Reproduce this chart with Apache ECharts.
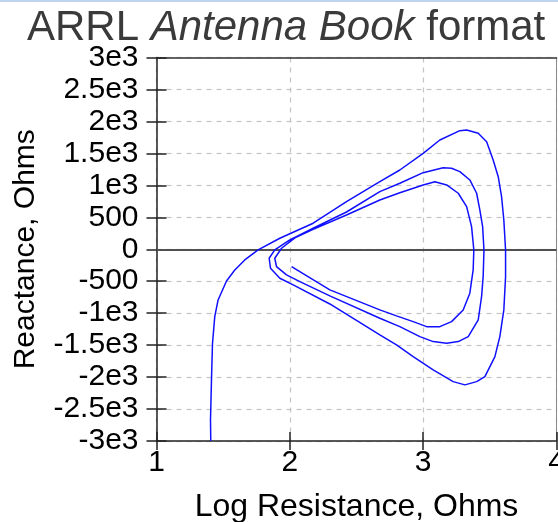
<!DOCTYPE html>
<html>
<head>
<meta charset="utf-8">
<script src="https://cdn.jsdelivr.net/npm/echarts@6/dist/echarts.min.js"></script>
<style>
  html, body { margin: 0; padding: 0; background: #fff; }
  #chart { width: 558px; height: 522px; }
</style>
</head>
<body>
<div id="chart"></div>
<script>
// Impedance trace: log10 of resistance vs reactance (ohms), one continuous spiral
const logResistance = [
  1.407, 1.405, 1.413, 1.420, 1.437, 1.462, 1.525, 1.587, 1.662, 1.762,
  1.925, 2.175, 2.425, 2.675, 2.825, 3.000, 3.125, 3.275, 3.326, 3.413,
  3.476, 3.525, 3.563, 3.588, 3.605, 3.618, 3.618, 3.605, 3.575, 3.538,
  3.463, 3.401, 3.313, 3.225, 3.075, 2.925, 2.800, 2.675, 2.300, 2.025,
  1.925, 1.855, 1.845, 1.887, 2.000, 2.175, 2.425, 2.675, 2.825, 3.000,
  3.150, 3.213, 3.275, 3.350, 3.401, 3.425, 3.446, 3.456, 3.450, 3.438,
  3.413, 3.338, 3.263, 3.176, 3.075, 2.975, 2.825, 2.675, 2.300, 2.075,
  1.975, 1.900, 1.887, 1.938, 2.038, 2.175, 2.425, 2.675, 2.825, 3.000,
  3.088, 3.176, 3.263, 3.326, 3.363, 3.380, 3.375, 3.350, 3.300, 3.213,
  3.125, 3.026, 2.925, 2.800, 2.675, 2.300, 2.013
];
const reactance = [
  -3000, -2670, -1993, -1470, -1054, -793, -496, -324, -167, -11,
  172, 407, 744, 1057, 1240, 1501, 1709, 1855, 1866, 1814,
  1683, 1397, 1135, 823, 458, -11, -429, -949, -1367, -1680,
  -1993, -2071, -2122, -2071, -1888, -1680, -1497, -1340, -856, -558,
  -454, -297, -141, -11, 145, 328, 583, 901, 1032, 1198,
  1276, 1267, 1214, 1084, 876, 615, 353, -11, -429, -741,
  -1106, -1367, -1445, -1470, -1445, -1367, -1211, -1079, -730, -507,
  -402, -272, -141, 16, 177, 310, 536, 771, 885, 1006,
  1057, 1006, 876, 666, 353, -11, -324, -688, -949, -1132,
  -1211, -1211, -1132, -1043, -949, -636, -272
];

const xTickValues = [1, 2, 3, 4];
const xTickLabels = ['1', '2', '3', '4'];
const yTickValues = [-3000, -2500, -2000, -1500, -1000, -500, 0, 500, 1000, 1500, 2000, 2500, 3000];
const yTickLabels = ['-3e3', '-2.5e3', '-2e3', '-1.5e3', '-1e3', '-500', '0', '500', '1e3', '1.5e3', '2e3', '2.5e3', '3e3'];

const points = logResistance.map((x, i) => [x, reactance[i]]);

const FONT = '"Liberation Sans", Arial, Helvetica, sans-serif';

const xLabel = v => {
  const i = xTickValues.indexOf(Math.round(v * 1000) / 1000);
  return i >= 0 ? xTickLabels[i] : '';
};
const yLabel = v => {
  const i = yTickValues.indexOf(Math.round(v));
  return i >= 0 ? yTickLabels[i] : '';
};

const chart = echarts.init(document.getElementById('chart'), null, { renderer: 'canvas' });
chart.setOption({
  animation: false,
  backgroundColor: '#ffffff',
  title: {
    text: '{n|ARRL }{i|Antenna Book}{n| format}',
    left: 27,
    top: 7,
    padding: 0,
    textStyle: {
      fontWeight: 'normal',
      rich: {
        n: { fontFamily: FONT, fontSize: 42, fontWeight: 'normal', color: '#3a3a3a' },
        i: { fontFamily: FONT, fontSize: 42, fontWeight: 'normal', color: '#3a3a3a', fontStyle: 'italic' }
      }
    }
  },
  graphic: [
    { type: 'rect', left: 0, top: 0, shape: { width: 558, height: 2 }, style: { fill: '#bdd3ee' }, silent: true }
  ],
  grid: { left: 156.5, right: 1.5, top: 57.5, bottom: 81, containLabel: false, outerBoundsMode: 'none' },
  xAxis: [
    {
      type: 'value', position: 'bottom', min: 1, max: 4, interval: 1,
      name: 'Log Resistance, Ohms', nameLocation: 'middle', nameGap: 50,
      nameTextStyle: { fontFamily: FONT, fontSize: 32, color: '#000' },
      axisLine: { show: true, onZero: false, lineStyle: { color: '#222', width: 1.5 } },
      axisTick: { show: true, inside: false, length: 9, lineStyle: { color: '#222', width: 1.5 } },
      axisLabel: { show: true, margin: 7, fontFamily: FONT, fontSize: 30, color: '#000', formatter: xLabel, showMinLabel: true, showMaxLabel: true },
      splitLine: { show: true, lineStyle: { color: '#c4c4c4', width: 1.2, type: [5, 5] } },
      z: 3
    },
    {
      type: 'value', position: 'bottom', min: 1, max: 4, interval: 1,
      axisLine: { show: false, onZero: false },
      axisTick: { show: true, inside: true, length: 9, lineStyle: { color: '#222', width: 1.5 } },
      axisLabel: { show: false },
      splitLine: { show: false },
      z: 3
    },
    {
      type: 'value', position: 'top', min: 1, max: 4, interval: 1,
      axisLine: { show: true, onZero: false, lineStyle: { color: '#333', width: 1.5 } },
      axisTick: { show: false },
      axisLabel: { show: false },
      splitLine: { show: false },
      z: 3
    }
  ],
  yAxis: [
    {
      type: 'value', position: 'left', min: -3000, max: 3000, interval: 500,
      name: 'Reactance, Ohms', nameLocation: 'middle', nameGap: 116, nameRotate: 90,
      nameTextStyle: { fontFamily: FONT, fontSize: 30, color: '#000' },
      axisLine: { show: true, onZero: false, lineStyle: { color: '#222', width: 1.5 } },
      axisTick: { show: true, inside: false, length: 10, lineStyle: { color: '#222', width: 1.5 } },
      axisLabel: { show: true, margin: 18, fontFamily: FONT, fontSize: 30, color: '#000', formatter: yLabel, showMinLabel: true, showMaxLabel: true },
      splitLine: { show: true, lineStyle: { color: '#c4c4c4', width: 1.2, type: [5, 5] } },
      z: 3
    },
    {
      type: 'value', position: 'left', min: -3000, max: 3000, interval: 500,
      axisLine: { show: false, onZero: false },
      axisTick: { show: true, inside: true, length: 10, lineStyle: { color: '#222', width: 1.5 } },
      axisLabel: { show: false },
      splitLine: { show: false },
      z: 3
    },
    {
      type: 'value', position: 'right', min: -3000, max: 3000, interval: 500,
      axisLine: { show: true, onZero: false, lineStyle: { color: '#8a8a8a', width: 1 } },
      axisTick: { show: false },
      axisLabel: { show: false },
      splitLine: { show: false },
      z: 3
    }
  ],
  series: [
    {
      type: 'line',
      xAxisIndex: 0,
      yAxisIndex: 0,
      data: points,
      showSymbol: false,
      symbol: 'none',
      smooth: false,
      lineStyle: { color: '#1010ff', width: 1.5 },
      z: 6,
      markLine: {
        silent: true,
        symbol: ['none', 'none'],
        label: { show: false },
        lineStyle: { color: '#505050', width: 2, type: 'solid' },
        data: [{ yAxis: 0 }],
        z: 5
      }
    }
  ]
});
</script>
</body>
</html>
